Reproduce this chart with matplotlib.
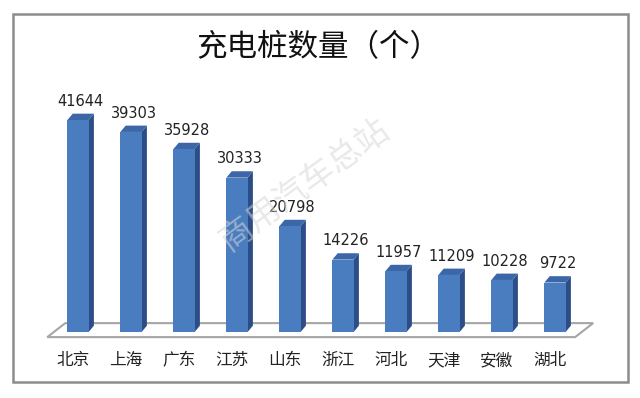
import matplotlib
matplotlib.use('Agg')
import matplotlib.pyplot as plt
from matplotlib.patches import Polygon, Rectangle
import numpy as np

plt.rcParams['font.family'] = ['Noto Sans CJK SC', 'DejaVu Sans']

# 数据
provinces = ['北京', '上海', '广东', '江苏', '山东', '浙江', '河北', '天津', '安徽', '湖北']
counts = [41644, 39303, 35928, 30333, 20798, 14226, 11957, 11209, 10228, 9722]
title = '充电桩数量（个）'
watermark = '商用汽车总站'

W, H = 640, 398
fig = plt.figure(figsize=(W / 100, H / 100), dpi=100)
fig.patch.set_facecolor('white')

# 外框
fig.patches.append(Rectangle((13 / W, 1 - 382 / H), 615 / W, 368 / H,
                             transform=fig.transFigure, fill=False,
                             edgecolor='#8c8c8c', linewidth=1.8))

ax = fig.add_axes([25 / W, (H - 347.3) / H, 583 / W, (347.3 - 77.5) / H])
ax.set_xlim(-1, 10)
ax.set_ylim(-3000, 50000)
ax.axis('off')

x = np.arange(len(provinces))
bw = 0.4
dx, dy = 0.1, 1250  # 立体效果偏移

# 底面
fx0, fx1 = -0.58, 9.38
fy0 = -1000
floor = Polygon([(fx0, fy0), (fx1, fy0), (fx1 + 0.34, fy0 + 2750), (fx0 + 0.34, fy0 + 2750)],
                closed=True, facecolor='white', edgecolor='#a6a6a6', linewidth=1.5, zorder=1)
ax.add_patch(floor)

front = '#4a7cc0'
side = '#2c4d86'
top = '#3b66a8'
for xi, v in zip(x, counts):
    l, r = xi - bw / 2, xi + bw / 2
    ax.add_patch(Polygon([(r, 0), (r + dx, dy), (r + dx, v + dy), (r, v)],
                         closed=True, facecolor=side, edgecolor='none', zorder=2))
    ax.add_patch(Polygon([(l, v), (r, v), (r + dx, v + dy), (l + dx, v + dy)],
                         closed=True, facecolor=top, edgecolor='none', zorder=2))
ax.bar(x, counts, width=bw, color=front, edgecolor='none', zorder=3)

for xi, v in zip(x, counts):
    ax.annotate(str(v), (xi + dx / 2, v + dy), xytext=(0, 3.5), textcoords='offset points',
                ha='center', va='bottom', fontsize=10.5, family='DejaVu Sans',
                color='#222222', annotation_clip=False)

for xi, name in zip(x, provinces):
    ax.text(xi - 0.1, -5600, name, ha='center', va='center', fontsize=12, color='#222222')

fig.text(318 / W, 1 - 48 / H, title, ha='center', va='center', fontsize=22,
         color='#111111', fontweight='light')

fig.text(305 / W, 1 - 185 / H, watermark, ha='center', va='center', fontsize=24,
         rotation=36, color='#d6d6d6', alpha=0.55)

fig.savefig('out.png', dpi=100)
